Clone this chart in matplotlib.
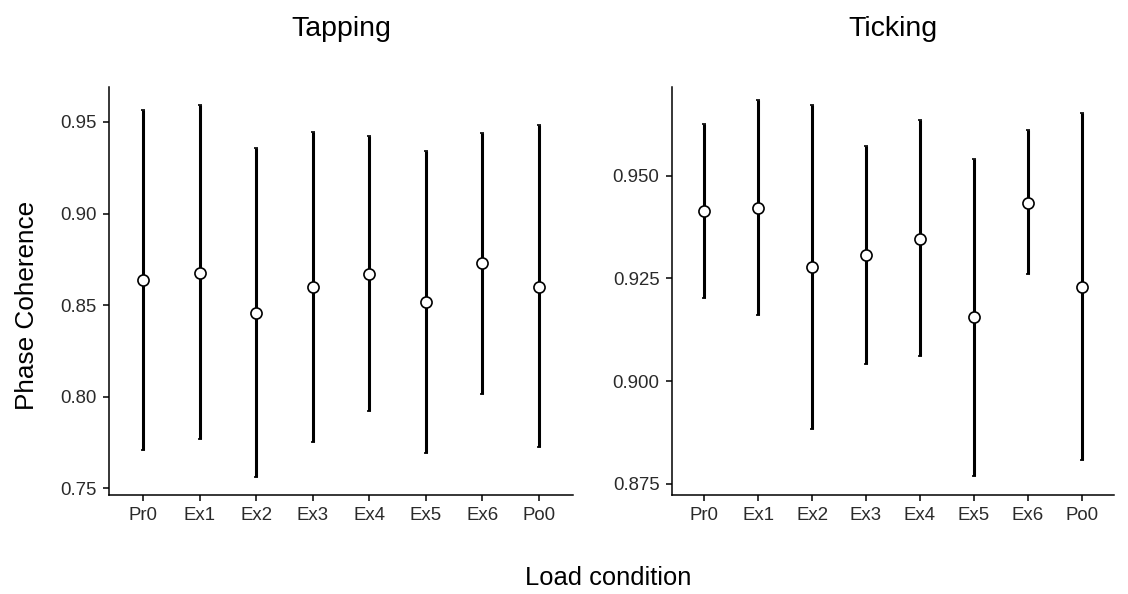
import matplotlib.pyplot as plt

conditions = ['Pr0', 'Ex1', 'Ex2', 'Ex3', 'Ex4', 'Ex5', 'Ex6', 'Po0']

tap_mean = [0.8636, 0.8678, 0.8458, 0.8598, 0.8671, 0.8516, 0.8729, 0.8600]
tap_lo = [0.7709, 0.7771, 0.7564, 0.7753, 0.7924, 0.7693, 0.8018, 0.7725]
tap_hi = [0.9564, 0.9595, 0.9358, 0.9445, 0.9422, 0.9344, 0.9442, 0.9482]

tick_mean = [0.9414, 0.9422, 0.9277, 0.9307, 0.9347, 0.9155, 0.9435, 0.9229]
tick_lo = [0.9202, 0.9160, 0.8882, 0.9042, 0.9060, 0.8768, 0.9260, 0.8807]
tick_hi = [0.9627, 0.9685, 0.9673, 0.9572, 0.9636, 0.9542, 0.9612, 0.9653]

tap_ticks = [0.75, 0.80, 0.85, 0.90, 0.95]
tap_ticklabels = ['0.75', '0.80', '0.85', '0.90', '0.95']
tick_ticks = [0.875, 0.900, 0.925, 0.950]
tick_ticklabels = ['0.875', '0.900', '0.925', '0.950']

plt.rcParams['font.family'] = ['Liberation Sans', 'DejaVu Sans']

W, H = 1128, 594
fig = plt.figure(figsize=(W / 100, H / 100), dpi=100)
fig.patch.set_facecolor('white')


def px_axes(x0, x1, y0, y1):
    # pixel box (from top-left) -> figure fraction
    return fig.add_axes([x0 / W, 1 - y1 / H, (x1 - x0) / W, (y1 - y0) / H])


def draw_panel(ax, mean, lo, hi, ylim, ticks, ticklabels, title):
    x = list(range(len(conditions)))
    lower = [m - l for m, l in zip(mean, lo)]
    upper = [h - m for m, h in zip(mean, hi)]
    ax.errorbar(x, mean, yerr=[lower, upper], fmt='o', color='black',
                ecolor='black', elinewidth=2.2, capsize=1.6, capthick=2.2,
                markersize=8, markerfacecolor='white',
                markeredgecolor='black', markeredgewidth=1.2, zorder=3)
    ax.set_xlim(-0.6, len(conditions) - 0.4)
    ax.set_ylim(*ylim)
    ax.set_xticks(x)
    ax.set_xticklabels(conditions)
    ax.set_yticks(ticks)
    ax.set_yticklabels(ticklabels)
    for side in ['top', 'right']:
        ax.spines[side].set_visible(False)
    for side in ['left', 'bottom']:
        ax.spines[side].set_linewidth(1.1)
        ax.spines[side].set_color('black')
    ax.tick_params(axis='both', length=4, width=1.1, color='black',
                   labelsize=13.4, labelcolor='#2a2a2a', pad=5)
    ax.set_facecolor('white')
    pos = ax.get_position()
    fig.text(pos.x0 + pos.width / 2, 1 - 29 / H, title, ha='center',
             va='center', fontsize=20.5, color='black')


ax1 = px_axes(109, 573, 87, 495)
draw_panel(ax1, tap_mean, tap_lo, tap_hi, (0.7464, 0.9691),
           tap_ticks, tap_ticklabels, 'Tapping')

ax2 = px_axes(672, 1114, 87, 495)
draw_panel(ax2, tick_mean, tick_lo, tick_hi, (0.8722, 0.9717),
           tick_ticks, tick_ticklabels, 'Ticking')

fig.text(27 / W, 1 - 305 / H, 'Phase Coherence', rotation=90, ha='center',
         va='center', fontsize=18.8, color='black')
fig.text(608 / W, 1 - 578 / H, 'Load condition', ha='center', va='center',
         fontsize=18.4, color='black')

fig.savefig('out.png', dpi=100, facecolor='white')
